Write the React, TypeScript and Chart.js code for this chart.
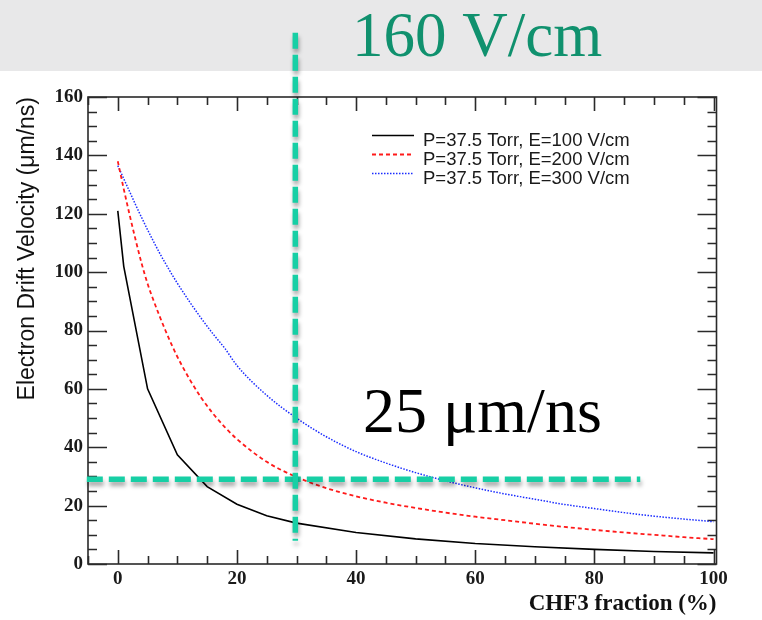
import React, { useEffect, useRef } from "react";
import { Chart, registerables } from "chart.js";

Chart.register(...registerables);

// ---------- data ----------
const FRACTION_E100 = [0, 1, 5, 10, 15, 20, 25, 30, 40, 50, 60, 70, 80, 90, 100];
const VELOCITY_E100 = [121, 102, 60, 37.4, 26.5, 20.5, 16.5, 14, 10.8, 8.6, 7.0, 5.9, 5.0, 4.3, 3.8];

const FRACTION_SMOOTH = [0, 1, 2, 3, 4, 5, 6, 7, 8, 9, 10, 12, 14, 16, 18, 20, 25, 30, 35, 40, 45, 50, 55, 60, 65, 70, 75, 80, 85, 90, 95, 100];
const VELOCITY_E200 = [138, 128.5, 119.5, 111, 103, 96, 90.3, 85, 80, 75.3, 71, 63.5, 57, 51.5, 46.8, 42.8, 35, 29.8, 26, 23.2, 21, 19.2, 17.6, 16.2, 15, 13.8, 12.7, 11.7, 10.8, 10, 9.2, 8.5];
const VELOCITY_E300 = [136.5, 132, 127.5, 123, 118.7, 114.5, 110.5, 106.6, 103, 99.5, 96.2, 90, 84.2, 78.8, 73.8, 68, 57.8, 50, 43.6, 38.5, 34.6, 31.3, 28.5, 26.1, 24, 22.2, 20.4, 19, 17.6, 16.4, 15.4, 14.5];

const SERIES_LABELS = [
  "P=37.5 Torr, E=100 V/cm",
  "P=37.5 Torr, E=200 V/cm",
  "P=37.5 Torr, E=300 V/cm",
];

// guide lines (field / speed markers)
const GUIDE_FIELD_X = [29.8, 29.8];
const GUIDE_FIELD_Y = [182, 8];
const GUIDE_SPEED_X = [-5.2, 87.7];
const GUIDE_SPEED_Y = [29, 29];

const X_TICKS = [0, 20, 40, 60, 80, 100];
const Y_TICKS = [0, 20, 40, 60, 80, 100, 120, 140, 160];
const X_MINOR_STEP = 5;
const Y_MINOR_STEP = 5;

const X_TITLE = "CHF3 fraction (%)";
const Y_TITLE = "Electron Drift Velocity (\u03bcm/ns)";
const FIELD_NOTE = "160 V/cm";
const SPEED_NOTE = "25 \u03bcm/ns";

// ---------- helpers ----------
const pts = (xs: number[], ys: number[]) => xs.map((x, i) => ({ x, y: ys[i] }));

const TEAL = "#17cfa5";

const slidePlugin = {
  id: "slide",
  beforeDraw(chart: any) {
    const { ctx, width, height } = chart;
    ctx.save();
    ctx.fillStyle = "#ffffff";
    ctx.fillRect(0, 0, width, height);
    ctx.fillStyle = "#e8e8e9";
    ctx.fillRect(0, 0, width, 71);
    ctx.restore();
  },
  beforeDatasetsDraw(chart: any) {
    const { ctx, chartArea } = chart;
    const { left, right, top, bottom } = chartArea;
    const xs = chart.scales.x;
    const ys = chart.scales.y;
    ctx.save();
    ctx.strokeStyle = "#2a2a2a";
    ctx.lineWidth = 1.6;
    ctx.strokeRect(left, top, right - left, bottom - top);
    ctx.beginPath();
    for (let v = Math.ceil(xs.min / X_MINOR_STEP) * X_MINOR_STEP; v <= xs.max; v += X_MINOR_STEP) {
      const px = Math.round(xs.getPixelForValue(v)) + 0.5;
      const len = v % 20 === 0 ? 14 : 8;
      ctx.moveTo(px, bottom);
      ctx.lineTo(px, bottom - len);
      ctx.moveTo(px, top);
      ctx.lineTo(px, top + len);
    }
    for (let v = Math.ceil(ys.min / Y_MINOR_STEP) * Y_MINOR_STEP; v <= ys.max; v += Y_MINOR_STEP) {
      const py = Math.round(ys.getPixelForValue(v)) + 0.5;
      const len = v % 20 === 0 ? 19 : 9;
      ctx.moveTo(left, py);
      ctx.lineTo(left + len, py);
      ctx.moveTo(right, py);
      ctx.lineTo(right - len, py);
    }
    ctx.stroke();
    ctx.restore();
  },
  beforeDatasetDraw(chart: any, args: any) {
    const ds = chart.data.datasets[args.index];
    if (ds.isGuide) {
      const ctx = chart.ctx;
      ctx.save();
      ctx.shadowColor = "rgba(0,0,0,0.35)";
      ctx.shadowBlur = 4;
      ctx.shadowOffsetX = 1;
      ctx.shadowOffsetY = 4;
    }
  },
  afterDatasetDraw(chart: any, args: any) {
    const ds = chart.data.datasets[args.index];
    if (ds.isGuide) chart.ctx.restore();
  },
  afterDraw(chart: any) {
    const { ctx } = chart;
    ctx.save();
    // slide texts
    ctx.textBaseline = "alphabetic";
    ctx.textAlign = "left";
    ctx.font = '63px "Liberation Serif", "Times New Roman", serif';
    ctx.fillStyle = "#10916e";
    ctx.fillText(FIELD_NOTE, 352, 56);
    ctx.font = '64px "Liberation Serif", "Times New Roman", serif';
    ctx.fillStyle = "#000000";
    ctx.fillText(SPEED_NOTE, 363, 432);

    // legend
    ctx.font = '18.5px "Liberation Sans", Arial, sans-serif';
    const series = chart.data.datasets.filter((d: any) => !d.isGuide);
    series.forEach((d: any, i: number) => {
      const ly = 135 + i * 19;
      ctx.save();
      ctx.strokeStyle = d.borderColor;
      ctx.lineWidth = d.borderWidth;
      ctx.setLineDash(d.borderDash || []);
      ctx.beginPath();
      ctx.moveTo(372, ly + 0.5);
      ctx.lineTo(414, ly + 0.5);
      ctx.stroke();
      ctx.restore();
      ctx.fillStyle = "#1a1a1a";
      ctx.fillText(d.label, 423, ly + 11);
    });
    ctx.restore();
  },
};

export default function App() {
  const ref = useRef<HTMLCanvasElement>(null);

  useEffect(() => {
    document.body.style.margin = "0";
    const canvas = ref.current;
    if (!canvas) return;

    const tickFont = { family: '"Liberation Serif", "Times New Roman", serif', size: 19, weight: "bold" as const };

    const chart = new Chart(canvas, {
      type: "line",
      data: {
        datasets: [
          {
            label: "field guide",
            isGuide: true,
            data: pts(GUIDE_FIELD_X, GUIDE_FIELD_Y),
            borderColor: TEAL,
            borderWidth: 5.5,
            borderDash: [16, 6],
            borderCapStyle: "butt",
            pointRadius: 0,
            clip: false,
            order: 0,
          } as any,
          {
            label: "speed guide",
            isGuide: true,
            data: pts(GUIDE_SPEED_X, GUIDE_SPEED_Y),
            borderColor: TEAL,
            borderWidth: 5.5,
            borderDash: [16, 6],
            borderCapStyle: "butt",
            pointRadius: 0,
            clip: false,
            order: 0,
          } as any,
          {
            label: SERIES_LABELS[0],
            data: pts(FRACTION_E100, VELOCITY_E100),
            borderColor: "#000000",
            borderWidth: 1.6,
            borderDash: [],
            pointRadius: 0,
            tension: 0,
            order: 1,
          },
          {
            label: SERIES_LABELS[1],
            data: pts(FRACTION_SMOOTH, VELOCITY_E200),
            borderColor: "#ff1a1a",
            borderWidth: 1.8,
            borderDash: [4, 3],
            pointRadius: 0,
            cubicInterpolationMode: "monotone",
            order: 1,
          },
          {
            label: SERIES_LABELS[2],
            data: pts(FRACTION_SMOOTH, VELOCITY_E300),
            borderColor: "#1a2cff",
            borderWidth: 1.5,
            borderDash: [1.5, 1.5],
            pointRadius: 0,
            cubicInterpolationMode: "monotone",
            order: 1,
          },
        ],
      },
      options: {
        responsive: false,
        animation: false,
        devicePixelRatio: 1,
        layout: { padding: { left: 0, right: 45.5, top: 97, bottom: 0 } },
        plugins: {
          legend: { display: false },
          tooltip: { enabled: false },
        },
        scales: {
          x: {
            type: "linear",
            min: -5,
            max: 100.5,
            grid: { display: false, drawTicks: false },
            border: { display: false },
            afterBuildTicks: (s: any) => {
              s.ticks = X_TICKS.map((v) => ({ value: v }));
            },
            afterFit: (s: any) => {
              s.height = 56;
            },
            ticks: {
              font: tickFont,
              color: "#1a1a1a",
              padding: 4,
              maxRotation: 0,
              autoSkip: false,
            },
            title: {
              display: true,
              text: X_TITLE,
              align: "end",
              color: "#111",
              font: { family: '"Liberation Serif", "Times New Roman", serif', size: 23, weight: "bold" },
              padding: { top: 0, bottom: 2 },
            },
          },
          y: {
            type: "linear",
            min: 0,
            max: 160,
            grid: { display: false, drawTicks: false },
            border: { display: false },
            afterBuildTicks: (s: any) => {
              s.ticks = Y_TICKS.map((v) => ({ value: v }));
            },
            afterFit: (s: any) => {
              s.width = 88;
            },
            ticks: {
              font: tickFont,
              color: "#1a1a1a",
              padding: 5,
              autoSkip: false,
            },
            title: {
              display: true,
              text: Y_TITLE,
              align: "end",
              color: "#111",
              font: { family: '"Liberation Sans", Arial, sans-serif', size: 23 },
              padding: { top: 14, bottom: 0 },
            },
          },
        },
      } as any,
      plugins: [slidePlugin],
    });

    return () => chart.destroy();
  }, []);

  return (
    <div style={{ width: 762, height: 620 }}>
      <canvas ref={ref} width={762} height={620} style={{ display: "block" }} />
    </div>
  );
}
